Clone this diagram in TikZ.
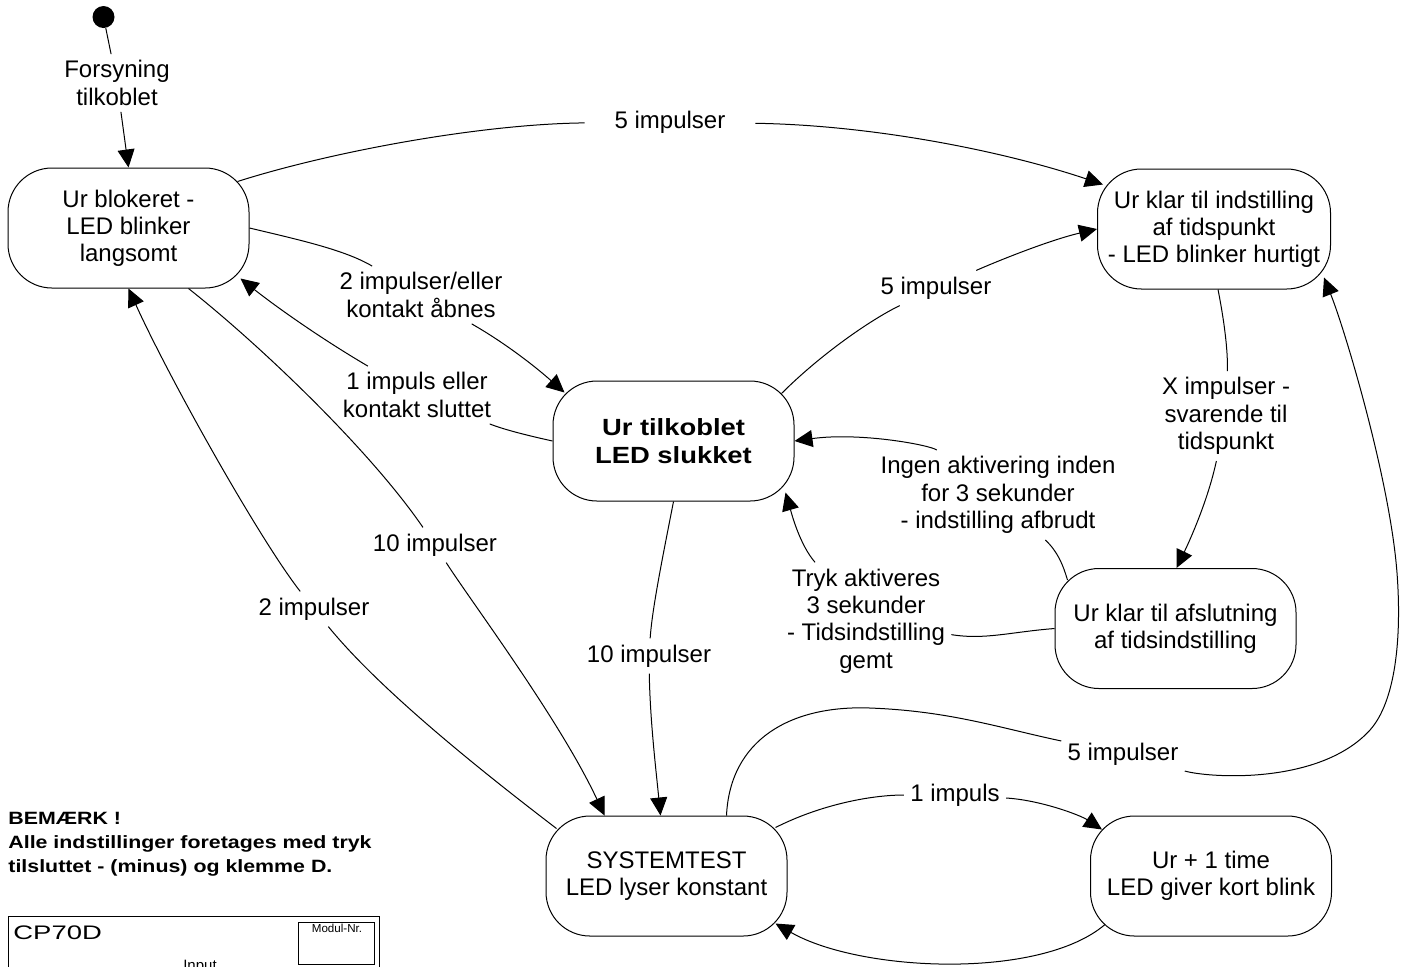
\documentclass[tikz,border=0pt]{standalone}
\usepackage{fontspec}
\setmainfont{Liberation Sans}
\newfontfamily\widesans[FakeStretch=1.17]{Liberation Sans}
\newfontfamily\notesans[FakeStretch=1.2]{Liberation Sans}
\newfontfamily\titlesans[FakeStretch=1.4]{Liberation Sans}
\usetikzlibrary{calc,arrows.meta}
\tikzset{
	state/.style={draw, line width=0.5pt, rounded corners=22pt, minimum width=120.5pt, minimum height=60pt, align=center, font=\fontsize{12}{13.4}\selectfont},
	lbl/.style={align=center, inner sep=3pt, font=\fontsize{12}{13.7}\selectfont},
	trans/.style={line width=0.5pt, -{Triangle[length=9pt,width=8.5pt]}},
	leg/.style={line width=0.5pt},
}

\begin{document}
\begin{tikzpicture}[x=0.5pt, y=-0.5pt]
		%%%%% START %%%%%
		\useasboundingbox (0, 0) rectangle (1411, 966);
		
		\node[state] (blok) at (128.5, 228) {Ur blokeret -\\LED blinker\\langsomt};
		\node[state, minimum width=116.5pt] (klar) at (1214, 229) {Ur klar til indstilling\\af tidspunkt\\- LED blinker hurtigt};
		\node[state, font=\widesans\bfseries\fontsize{11.7}{14}\selectfont] (tilk) at (673.5, 441) {Ur tilkoblet\\LED slukket};
		\node[state] (afsl) at (1175.5, 628.5) {Ur klar til afslutning\\af tidsindstilling};
		\node[state] (syst) at (666.5, 876) {SYSTEMTEST\\LED lyser konstant};
		\node[state] (time) at (1211, 876) {Ur + 1 time\\LED giver kort blink};
		
		\node[circle, fill=black, inner sep=0pt, minimum size=11pt] (init) at (103.5, 17) {};
		
		\node[lbl] (forsy) at (117, 83) {Forsyning\\tilkoblet};
		\node[lbl, minimum width=85pt] (imp5a) at (670, 122) {5 impulser};
		\node[lbl] (imp2e) at (421, 295) {2 impulser/eller\\kontakt åbnes};
		\node[lbl] (imp1e) at (417, 395) {1 impuls eller\\kontakt sluttet};
		\node[lbl] (imp10a) at (435, 545) {10 impulser};
		\node[lbl] (imp2b) at (314, 609) {2 impulser};
		\node[lbl] (imp10b) at (649, 656) {10 impulser};
		\node[lbl] (imp5b) at (936, 288) {5 impulser};
		\node[lbl] (ximp) at (1226, 416) {X impulser -\\svarende til\\tidspunkt};
		\node[lbl] (ingen) at (998, 495) {Ingen aktivering inden\\for 3 sekunder\\- indstilling afbrudt};
		\node[lbl] (tryk) at (866, 621) {Tryk aktiveres\\3 sekunder\\- Tidsindstilling\\gemt};
		\node[lbl] (imp5c) at (1123, 754) {5 impulser};
		\node[lbl] (imp1) at (955, 795) {1 impuls};
		
		\draw[leg] (init) -- (forsy);
		\draw[trans] (forsy) -- (blok.north);
		
		\draw[leg] ($(blok.north east)+(-12,14)$) .. controls (330,152) and (480,124) .. (imp5a);
		\draw[trans] (imp5a) .. controls (870,125) and (1000,150) .. ($(klar.north west)+(6,16)$);
		
		\draw[leg] (blok.east) .. controls (300,240) and (345,250) .. (imp2e);
		\draw[trans] (imp2e) .. controls (500,340) and (530,362) .. ($(tilk.north west)+(12,12)$);
		
		\draw[leg] (tilk.west) .. controls (530,436) and (505,430) .. (imp1e);
		\draw[trans] (imp1e) .. controls (315,335) and (270,302) .. ($(blok.south east)+(-9,-10)$);
		
		\draw[leg] ($(blok.south)+(60,0)$) .. controls (260,345) and (370,450) .. (imp10a);
		\draw[trans] (imp10a) .. controls (470,600) and (560,720) .. ($(syst.north)+(-62,0)$);
		
		\draw[leg] ($(syst.north west)+(11,13)$) .. controls (480,770) and (380,690) .. (imp2b);
		\draw[trans] (imp2b) .. controls (260,540) and (170,380) .. (blok.south);
		
		\draw[leg] (tilk.south) .. controls (662,560) and (652,610) .. (imp10b);
		\draw[trans] (imp10b) .. controls (650,720) and (656,770) .. ($(syst.north)+(-6,0)$);
		
		\draw[leg] ($(tilk.north east)+(-13,13)$) .. controls (820,355) and (870,320) .. (imp5b);
		\draw[trans] (imp5b) .. controls (1000,260) and (1050,240) .. (klar.west);
		
		\draw[leg] ($(klar.south)+(4,0)$) .. controls (1224,320) and (1228,350) .. (ximp);
		\draw[trans] (ximp) .. controls (1208,500) and (1190,540) .. ($(afsl.north)+(1,0)$);
		
		\draw[leg] ($(afsl.north west)+(13,12)$) .. controls (1063,565) and (1058,552) .. (ingen);
		\draw[trans] (ingen) .. controls (930,445) and (860,432) .. (tilk.east);
		
		\draw[leg] (afsl.west) .. controls (1010,632) and (985,640) .. (tryk);
		\draw[trans] (tryk) .. controls (800,545) and (792,515) .. ($(tilk.south east)+(-9,-9)$);
		
		\draw[leg] ($(syst.north)+(60,0)$) .. controls (730,740) and (790,705) .. (870,708) .. controls (950,711) and (1000,728) .. (imp5c);
		\draw[trans] (imp5c) .. controls (1210,778) and (1320,785) .. (1370,730) .. controls (1395,702) and (1402,640) .. (1397,573) .. controls (1390,480) and (1345,330) .. ($(klar.south east)+(-7,-12)$);
		
		\draw[leg] ($(syst.north east)+(-12,12)$) .. controls (820,805) and (870,795) .. (imp1);
		\draw[trans] (imp1) .. controls (1040,800) and (1080,815) .. ($(time.north west)+(12,14)$);
		
		\draw[trans] ($(time.south west)+(15,-12)$) .. controls (1040,980) and (860,972) .. ($(syst.south east)+(-12,-13)$);
		
		\node[anchor=north west, inner sep=0pt, align=left, font=\notesans\bfseries\fontsize{8.9}{12}\selectfont] (note) at (8, 812) {BEMÆRK !\\Alle indstillinger foretages med tryk\\tilsluttet - (minus) og klemme D.};
		
		\draw[leg] (8, 916) rectangle (379, 990);
		\draw[leg] (298, 922) rectangle (374, 964);
		\node[anchor=west, inner sep=0pt, font=\titlesans\fontsize{9.8}{12}\selectfont] (cp) at (13, 933) {CP70D};
		\node[inner sep=0pt, font=\fontsize{5.8}{7}\selectfont] (modul) at (337, 928) {Modul-Nr.};
		\node[anchor=north, inner sep=0pt, font=\fontsize{7.5}{9}\selectfont] (input) at (200, 960) {Input};
		
		%%%%% END %%%%%
	\end{tikzpicture}
\end{document}
